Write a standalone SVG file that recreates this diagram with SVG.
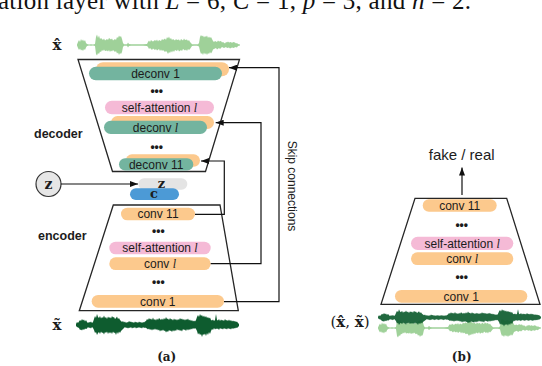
<svg xmlns="http://www.w3.org/2000/svg" width="542" height="366" viewBox="0 0 542 366">
<style>
.t{font-family:"Liberation Sans",Arial,sans-serif;font-size:12px;fill:#1c1c1c;text-anchor:middle}
.lbl{font-family:"Liberation Sans",Arial,sans-serif;font-size:12.5px;font-weight:bold;fill:#1c1c1c}
.m{font-family:"Liberation Serif","Times New Roman",serif;font-style:italic}
.s{font-family:"DejaVu Serif","Liberation Serif",serif;font-weight:bold;fill:#1c1c1c;text-anchor:middle}
.dots{font-family:"Liberation Sans",Arial,sans-serif;font-size:12px;font-weight:bold;fill:#1c1c1c;text-anchor:middle}
.or{fill:#fcc98d}
.gr{fill:#73b49f}
.pk{fill:#f5bad6}
.trap{fill:none;stroke:#262626;stroke-width:1.3}
.ln{fill:none;stroke:#111;stroke-width:1.2}
.lw{fill:#9fd199}
.dw{fill:#0e5c2f}
</style>
<defs>
<marker id="ah" viewBox="0 0 8 6" refX="8" refY="3" markerWidth="8" markerHeight="6" markerUnits="userSpaceOnUse" orient="auto"><path d="M0,0L8,3L0,6z" fill="#111"/></marker>
<polygon id="wl" points="0,-0.5 1,-3 2,-5 3,-3 4,-6 5,-4 6,-5.5 7,-3.5 8,-5 9,-2 10,-1 12,-0.6 14,-0.8 16,-0.6 18,-1 19,-8 20,-10.5 21,-7 22,-9.5 23,-6 24,-7 26,-5 27,-6.5 28,-4.5 30,-6 31,-5 32,-7 34,-5.5 35,-6.5 36,-4.5 38,-6 39,-5 40,-8 41,-7 42,-9.5 43,-8 44,-9 45,-6 46,-2 47,-0.8 50,-0.8 51,-2.5 52,-1 54,-0.7 58,-0.8 62,-0.7 66,-0.8 70,-1 71,-3 72,-4.5 73,-3 74,-5 75,-4 76,-3.5 78,-5 79,-4 80,-5.5 81,-3.5 82,-5 84,-4 85,-6 86,-5 88,-6.5 89,-5 90,-8 91,-6.5 92,-8.5 93,-6 94,-7 95,-5 96,-6 98,-4.5 99,-6 100,-5 102,-5.5 103,-4 104,-6 106,-4.5 107,-6.5 108,-5 110,-5.5 111,-4 112,-5 113,-3 114,-2 115,-0.8 118,-0.7 121,-0.8 122,-2 123,-8 124,-10 125,-8.5 126,-9.5 127,-7.5 128,-9 129,-8 130,-9.5 131,-7 132,-8.5 133,-7 134,-8 135,-6 136,-4 137,-3 138,-4 140,-3 141,-4.5 142,-3.5 144,-4 145,-2.5 146,-3 148,-1.5 149,-3 150,-2.5 151,-3.5 152,-2.5 154,-3 155,-2 156,-3 158,-2.5 159,-1.5 160,-2 161,-1 163,-0.5 163,0.5 161,1 160,2.5 158,2 157,3 155,2.5 153,3.5 152,2.5 150,3 149,2 147,3 145,2 143,4 142,3 140,4.5 139,3 137,4 136,4.5 135,7 134,8.5 133,7 132,9 131,8 130,10 129,8 128,9.5 127,7.5 126,10 125,8 124,9 123,6 122,1.5 120,0.8 117,0.7 115,1 114,2.5 113,4 112,5 111,4 110,6 109,4.5 108,5.5 106,4 105,6 104,5 102,6.5 101,4.5 100,6 98,5 97,7 96,5.5 95,7.5 94,6 93,8 92,7 91,9 90,7 89,6 88,7 86,5 85,6 84,4.5 83,6 82,4 80,5.5 79,4 78,5 76,3.5 75,5 74,4 73,3 72,4 71,2 70,1 66,0.8 62,0.7 58,0.8 54,0.7 52,1 51,2.5 50,0.8 47,0.8 46,2 45,7 44,9 43,8 42,10 41,7.5 40,8.5 39,6 38,7 36,5 35,6.5 34,5.5 33,7 32,5 31,6.5 30,5.5 28,6 27,4.5 26,6 25,5 24,7 23,6.5 22,9 21,8 20,10.5 19,9 18,1 16,0.6 14,0.8 12,0.6 10,1 9,2.5 8,5 7,4 6,6 5,4.5 4,5.5 3,3.5 2,5 1,3 0,0.5"/>
<polygon id="wd" points="0,-1 1,-3 2,-2 3,-3.5 4,-5 5,-4 6,-6 7,-4.5 8,-5.5 9,-3.5 10,-5 11,-3 12,-2 13,-3 14,-2.5 15,-3.5 16,-2 17,-3 18,-6 19,-9 20,-7 21,-11 22,-8 23,-7 24,-9 25,-6.5 26,-8 27,-7 28,-9.5 29,-7 30,-8 31,-6 32,-8.5 33,-7 34,-8 35,-6.5 36,-9 37,-7.5 38,-8 39,-6 40,-7 41,-8.5 42,-6 43,-7 44,-5 45,-4 46,-3 47,-4 48,-2.5 49,-3.5 50,-2 51,-3 52,-2.5 53,-4 54,-3 55,-3.5 56,-2.5 57,-3 58,-2 59,-3.5 60,-2.5 61,-3 62,-2 63,-3.5 64,-2.5 65,-3 66,-2 67,-3 68,-2.5 69,-3.5 70,-4 71,-6 72,-5 73,-7 74,-5.5 75,-6.5 76,-5 77,-7.5 78,-5 79,-6 80,-4.5 81,-6.5 82,-5 83,-7 84,-6 85,-5 86,-6.5 87,-5 88,-7 89,-5.5 90,-8 91,-6 92,-6.5 93,-5 94,-7 95,-5.5 96,-6 97,-4.5 98,-6.5 99,-5 100,-6 101,-4.5 102,-6 103,-5 104,-7 105,-5.5 106,-6.5 107,-5 108,-6 109,-4.5 110,-6 111,-5 112,-6.5 113,-4.5 114,-5.5 115,-4 116,-5 117,-3.5 118,-4.5 119,-3.5 120,-5 121,-8 122,-10 123,-8 124,-11 125,-9 126,-10 127,-8 128,-9.5 129,-7.5 130,-9 131,-7 132,-8 133,-6.5 134,-7.5 135,-5 136,-4.5 137,-5.5 138,-4 139,-5 140,-11 141,-5 142,-4.5 143,-6 144,-4 145,-5.5 146,-4.5 147,-5 148,-4 149,-6 150,-4.5 151,-5 152,-4 153,-5.5 154,-4 155,-5 156,-3.5 157,-4.5 158,-3.5 159,-4 160,-3 161,-3.5 162,-2 163,-1 163,1 162,2 161,3 160,2.5 159,3.5 158,3 157,4 156,3 155,4.5 154,3.5 153,4 152,3 151,4.5 150,3.5 149,4 148,3 147,4.5 146,3.5 145,4 144,3 143,5 142,3.5 141,4 140,3.5 139,4.5 138,3 137,5 136,4 135,6 134,9 133,7 132,10 131,8 130,11 129,8.5 128,10 127,9 126,12 125,9 124,10 123,8 122,9.5 121,6 120,4 119,3 118,4 117,3 116,4.5 115,3.5 114,5 113,4 112,5.5 111,4 110,6 109,4.5 108,5 107,4 106,6.5 105,5 104,6 103,4.5 102,5.5 101,4 100,6 99,5 98,6.5 97,5 96,7 95,5.5 94,6 93,5 92,7 91,6 90,7.5 89,5.5 88,6 87,4.5 86,6 85,5 84,6.5 83,4.5 82,5.5 81,4 80,5 79,3.5 78,5 77,4 76,5.5 75,4 74,5 73,3.5 72,4.5 71,3.5 70,3 69,2.5 68,3 67,2 66,3.5 65,2.5 64,3 63,2 62,3 61,2.5 60,3.5 59,2 58,3 57,2.5 56,3.5 55,2 54,3 53,2.5 52,3.5 51,2.5 50,3 49,2 48,3 47,4 46,5 45,6 44,8 43,6.5 42,9 41,7 40,10 39,7.5 38,8 37,6.5 36,9 35,7 34,8.5 33,7 32,9 31,6.5 30,8 29,7 28,9.5 27,7.5 26,8 25,6.5 24,9 23,7 22,8 21,10 20,7 19,8 18,5 17,3 16,2 15,3.5 14,2.5 13,3 12,2 11,3.5 10,4 9,3.5 8,5 7,4 6,5.5 5,4.5 4,5 3,3 2,2.5 1,2 0,1"/>
</defs>

<text x="-2" y="9" font-family="'Liberation Serif','Times New Roman',serif" font-size="25" fill="#111" textLength="473" lengthAdjust="spacing">ation layer with <tspan font-style="italic">L</tspan> = 6, <tspan font-style="italic">C</tspan> = 1, <tspan font-style="italic">p</tspan> = 3, and <tspan font-style="italic">n</tspan> = 2.</text>

<!-- waveforms -->
<g id="wave-xhat">
<text class="s" x="57" y="49.5" style="font-size:15px">x̂</text>
<use href="#wl" class="lw" transform="translate(77,45)"/>
</g>
<g id="wave-xtilde">
<text class="s" x="57" y="330" style="font-size:15px">x̃</text>
<use href="#wd" class="dw" transform="translate(76,325)"/>
</g>
<g id="wave-pair">
<text x="350" y="327" style="font-family:'DejaVu Serif','Liberation Serif',serif;font-size:15px;fill:#1c1c1c;text-anchor:middle">(<tspan font-weight="bold">x̂</tspan>, <tspan font-weight="bold">x̃</tspan>)</text>
<use href="#wl" class="lw" transform="translate(378,328) scale(1,0.9)"/>
<use href="#wd" class="dw" opacity="0.92" transform="translate(378,317.5) scale(1,0.75)"/>
</g>

<!-- decoder -->
<g id="decoder">
<polygon class="trap" points="78,59.5 239.5,59.5 205.5,171.5 112.5,171.5"/>
<text class="lbl" x="34" y="138">decoder</text>
<g id="deconv1"><rect class="or" x="96" y="62.3" width="133" height="14" rx="7"/><rect class="gr" x="89" y="66.7" width="133" height="13.5" rx="6.75"/><text class="t" x="155.5" y="77.7">deconv 1</text></g>
<text class="dots" x="156.7" y="95">•••</text>
<g id="dec-attn"><rect class="pk" x="105" y="100.7" width="109" height="13.6" rx="6.8"/><text class="t" x="159.5" y="111.6">self-attention <tspan class="m">l</tspan></text></g>
<g id="deconvl"><rect class="or" x="111" y="116" width="103" height="13" rx="6.5"/><rect class="gr" x="104" y="120.7" width="103" height="13.3" rx="6.65"/><text class="t" x="155.5" y="131.6">deconv <tspan class="m">l</tspan></text></g>
<text class="dots" x="156.7" y="151">•••</text>
<g id="deconv11"><rect class="or" x="125.7" y="154.3" width="74.3" height="12.5" rx="6.25"/><rect class="gr" x="119" y="158.3" width="74.3" height="12.2" rx="6.1"/><text class="t" x="156.2" y="168.5">deconv 11</text></g>
</g>

<!-- latent -->
<g id="z-input">
<circle cx="48.5" cy="184" r="12.5" fill="#e6e6e6" stroke="#333" stroke-width="1.2"/>
<text class="s" x="48.5" y="188.5" style="font-size:14px">z</text>
</g>
<g id="zc">
<rect x="138.3" y="178.3" width="49" height="11.4" rx="5.7" fill="#e4e4e4"/>
<rect x="130" y="188.3" width="49" height="11.7" rx="5.85" fill="#4c9ad6"/>
<text class="s" x="161.5" y="188" style="font-size:13px">z</text>
<text class="s" x="154" y="198.2" style="font-size:13px">c</text>
</g>

<!-- encoder -->
<g id="encoder">
<polygon class="trap" points="113.3,205 220,205 238.3,310.7 79.3,310.7"/>
<text class="lbl" x="38" y="240">encoder</text>
<g id="conv11"><rect class="or" x="121" y="207.7" width="74" height="12.6" rx="6.3"/><text class="t" x="158" y="218.3">conv 11</text></g>
<text class="dots" x="158.3" y="235">•••</text>
<g id="enc-attn"><rect class="pk" x="109.3" y="241.7" width="101.4" height="12.6" rx="6.3"/><text class="t" x="160" y="252.3">self-attention <tspan class="m">l</tspan></text></g>
<g id="convl"><rect class="or" x="109.3" y="257.3" width="101.4" height="12.7" rx="6.35"/><text class="t" x="160" y="268">conv <tspan class="m">l</tspan></text></g>
<text class="dots" x="158.3" y="286">•••</text>
<g id="conv1"><rect class="or" x="91.7" y="295" width="132.3" height="12.7" rx="6.35"/><text class="t" x="157.8" y="305.7">conv 1</text></g>
</g>

<!-- discriminator -->
<g id="discriminator">
<polygon class="trap" points="415,198.3 506.7,198.3 540,304.3 381,304.3"/>
<g id="d-conv11"><rect class="or" x="422.7" y="199.3" width="74" height="12.4" rx="6.2"/><text class="t" x="459.7" y="209.8">conv 11</text></g>
<text class="dots" x="461.7" y="229.3">•••</text>
<g id="d-attn"><rect class="pk" x="411" y="236.7" width="102.3" height="13.3" rx="6.65"/><text class="t" x="462.2" y="247.6">self-attention <tspan class="m">l</tspan></text></g>
<g id="d-convl"><rect class="or" x="411" y="252.3" width="102.3" height="12.7" rx="6.35"/><text class="t" x="462.2" y="263">conv <tspan class="m">l</tspan></text></g>
<text class="dots" x="461.7" y="281">•••</text>
<g id="d-conv1"><rect class="or" x="395" y="290" width="132.3" height="12.7" rx="6.35"/><text class="t" x="461.2" y="300.6">conv 1</text></g>
</g>
<g id="output">
<text class="t" x="461.7" y="160" style="font-size:15px">fake / real</text>
</g>

<!-- connectors -->
<g id="connectors">
<path class="ln" d="M195,214.3H224.3V161H201" marker-end="url(#ah)"/>
<path class="ln" d="M210.7,263.7H261V122.7H215.7" marker-end="url(#ah)"/>
<path class="ln" d="M224,301.7H279V67.7H229" marker-end="url(#ah)"/>
<path class="ln" d="M61,184H138" stroke-width="1" marker-end="url(#ah)"/>
<path class="ln" d="M462,195V167.5" marker-end="url(#ah)"/>
<text class="t" transform="translate(287.5,186) rotate(90)" x="0" y="0">Skip connections</text>
</g>

<text class="s" x="166.7" y="361" style="font-size:12px">(a)</text>
<text class="s" x="461.7" y="361" style="font-size:12px">(b)</text>
</svg>
